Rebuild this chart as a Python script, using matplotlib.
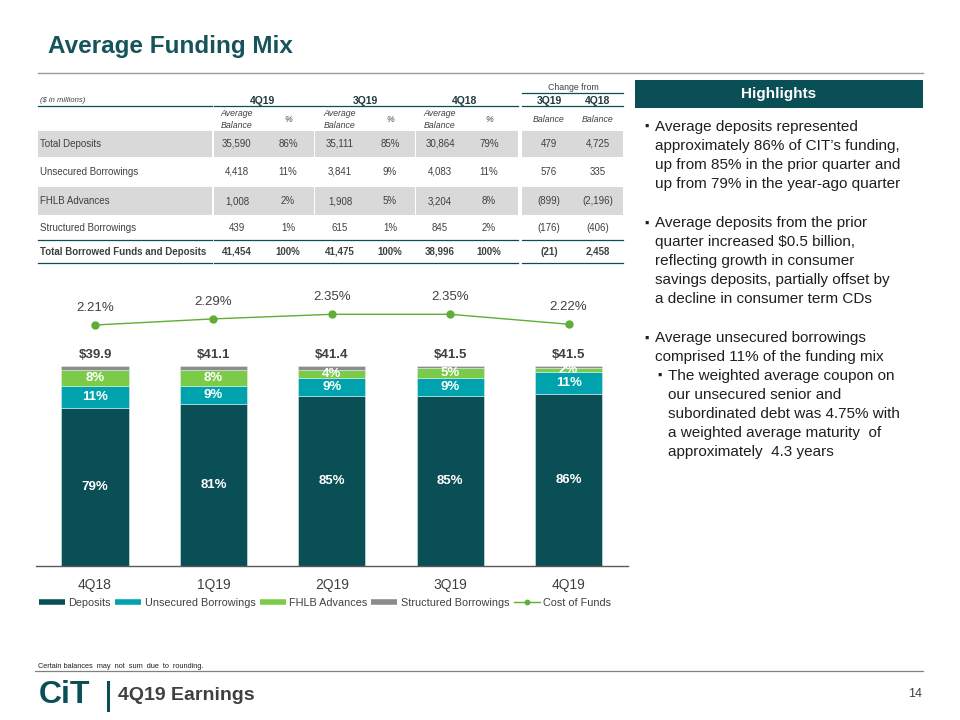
import matplotlib
matplotlib.use("Agg")
import matplotlib.pyplot as plt
from matplotlib.lines import Line2D
from matplotlib.patches import Rectangle

plt.rcParams['font.family'] = ['Liberation Sans', 'DejaVu Sans']

# --- chart data ---------------------------------------------------------
quarters = ["4Q18", "1Q19", "2Q19", "3Q19", "4Q19"]
deposits = [79, 81, 85, 85, 86]
unsecured = [11, 9, 9, 9, 11]
fhlb = [8, 8, 4, 5, 2]
structured = [2, 2, 2, 1, 1]
totals = [39.9, 41.1, 41.4, 41.5, 41.5]
cost_of_funds = [2.21, 2.29, 2.35, 2.35, 2.22]

# --- table data ---------------------------------------------------------
row_labels = ["Total Deposits", "Unsecured Borrowings", "FHLB Advances",
              "Structured Borrowings", "Total Borrowed Funds and Deposits"]
bal_4q19 = ["35,590", "4,418", "1,008", "439", "41,454"]
pct_4q19 = ["86%", "11%", "2%", "1%", "100%"]
bal_3q19 = ["35,111", "3,841", "1,908", "615", "41,475"]
pct_3q19 = ["85%", "9%", "5%", "1%", "100%"]
bal_4q18 = ["30,864", "4,083", "3,204", "845", "38,996"]
pct_4q18 = ["79%", "11%", "8%", "2%", "100%"]
chg_3q19 = ["479", "576", "(899)", "(176)", "(21)"]
chg_4q18 = ["4,725", "335", "(2,196)", "(406)", "2,458"]

highlights = [
    ["Average deposits represented",
     "approximately 86% of CIT\u2019s funding,",
     "up from 85% in the prior quarter and",
     "up from 79% in the year-ago quarter"],
    ["Average deposits from the prior",
     "quarter increased $0.5 billion,",
     "reflecting growth in consumer",
     "savings deposits, partially offset by",
     "a decline in consumer term CDs"],
    ["Average unsecured borrowings",
     "comprised 11% of the funding mix"],
]
sub_highlight = ["The weighted average coupon on",
                 "our unsecured senior and",
                 "subordinated debt was 4.75% with",
                 "a weighted average maturity  of",
                 "approximately  4.3 years"]

TEAL_DARK = "#0B4F56"
TEAL = "#00A3AD"
GREEN = "#7CCB48"
GRAY = "#8C8C8C"
LINE_GREEN = "#5FAE37"
TXT = "#404040"

W, H = 960, 720
fig = plt.figure(figsize=(9.6, 7.2), dpi=100)


def fx(x):
    return x / W


def fy(y):
    return 1 - y / H


def hline(x0, x1, y, color=TEAL_DARK, lw=0.9):
    fig.add_artist(Line2D([fx(x0), fx(x1)], [fy(y), fy(y)],
                          transform=fig.transFigure, color=color, lw=lw))


def txt(x, y, s, **kw):
    kw.setdefault("color", TXT)
    kw.setdefault("va", "center")
    fig.text(fx(x), fy(y), s, **kw)


# --- title ----------------------------------------------------------------
txt(48, 47, "Average Funding Mix", fontsize=17.5, fontweight="bold",
    color="#16535B", ha="left")
hline(38, 923, 73, color="#9A9A9A", lw=1.0)

# --- table ----------------------------------------------------------------
groups = [(38, 212), (213.5, 313.5), (315, 414.5), (416, 518), (522, 623)]
row_y = [144, 172, 201, 228, 252]
col_x = [237, 288, 340, 390, 440, 489, 549, 598]

for y0, y1 in [(131, 157), (187, 215)]:
    for x0, x1 in groups:
        fig.add_artist(Rectangle((fx(x0), fy(y1)), fx(x1) - fx(x0), (y1 - y0) / H,
                                 transform=fig.transFigure, color="#D9D9D9", lw=0))

for x0, x1 in groups[:4]:
    hline(x0, x1, 106)
hline(522, 573.5, 106)
hline(575, 623, 106)
hline(522, 623, 93)
for x0, x1 in groups:
    hline(x0, x1, 240)
    hline(x0, x1, 263)

txt(40, 100, "($ in millions)", fontsize=5.5, style="italic", ha="left")
txt(573, 87, "Change from", fontsize=6.3, ha="center")
for x, s in zip([262.5, 365, 464.5, 549, 598], ["4Q19", "3Q19", "4Q18", "3Q19", "4Q18"]):
    txt(x, 101, s, fontsize=7.5, fontweight="bold", color="#1E3A3E", ha="center")
for x in [237, 340, 440]:
    txt(x, 114, "Average", fontsize=6.3, style="italic", ha="center")
    txt(x, 125, "Balance", fontsize=6.3, style="italic", ha="center")
for x in [288, 390, 489]:
    txt(x, 119, "%", fontsize=6.3, style="italic", ha="center")
for x in [549, 598]:
    txt(x, 119, "Balance", fontsize=6.3, style="italic", ha="center")

columns = [bal_4q19, pct_4q19, bal_3q19, pct_3q19, bal_4q18, pct_4q18, chg_3q19, chg_4q18]
for i, (label, y) in enumerate(zip(row_labels, row_y)):
    w = "bold" if i == len(row_labels) - 1 else "normal"
    txt(40, y, label, fontsize=7, fontweight=w, ha="left")
    for x, col in zip(col_x, columns):
        txt(x, y, col[i], fontsize=7, fontweight=w, ha="center")

# --- stacked bars ---------------------------------------------------------
ax = fig.add_axes([fx(35.8), fy(566), (627.8 - 35.8) / W, (566 - 290) / H])
xs = range(len(quarters))
bw = 0.566
series = [(deposits, TEAL_DARK, "Deposits"),
          (unsecured, TEAL, "Unsecured Borrowings"),
          (fhlb, GREEN, "FHLB Advances"),
          (structured, GRAY, "Structured Borrowings")]
bottom = [0] * len(quarters)
for k, (vals, color, name) in enumerate(series):
    bars = ax.bar(xs, vals, bw, bottom=bottom, color=color, label=name,
                  edgecolor="#D8EEEE", linewidth=0.4)
    if k < 3:
        for b, v in zip(bars, vals):
            ax.text(b.get_x() + b.get_width() / 2, b.get_y() + b.get_height() / 2,
                    f"{v}%", ha="center", va="center", color="white",
                    fontsize=9.5, fontweight="bold")
    bottom = [a + b for a, b in zip(bottom, vals)]

for x, top, t in zip(xs, bottom, totals):
    ax.annotate(f"${t:.1f}", (x, top), xytext=(0, 8), textcoords="offset points",
                ha="center", va="center", fontsize=9.5, fontweight="bold", color=TXT)

ax.set_xlim(-0.5, 4.5)
ax.set_ylim(0, 138)
ax.set_xticks(list(xs), quarters)
ax.tick_params(axis="x", length=0, pad=9, labelsize=10, labelcolor=TXT)
ax.set_yticks([])
for s in ["top", "left", "right"]:
    ax.spines[s].set_visible(False)
ax.spines["bottom"].set_color("#595959")
ax.spines["bottom"].set_linewidth(1.0)

# --- cost of funds line ---------------------------------------------------
ax2 = ax.twinx()
ax2.set_ylim(-0.944, 2.668)
ax2.plot(xs, cost_of_funds, color=LINE_GREEN, lw=1.0, marker="o", markersize=5)
for x, v in zip(xs, cost_of_funds):
    ax2.annotate(f"{v:.2f}%", (x, v), xytext=(0, 12.2), textcoords="offset points",
                 ha="center", va="center", fontsize=9.5, color=TXT)
ax2.set_yticks([])
for s in ax2.spines.values():
    s.set_visible(False)

# --- legend ---------------------------------------------------------------
handles = [Line2D([0], [0], color=c, lw=4, solid_capstyle="butt") for _, c, _ in series]
handles.append(Line2D([0], [0], color=LINE_GREEN, lw=1.0, marker="o", markersize=3.2))
labels = [n for _, _, n in series] + ["Cost of Funds"]
fig.legend(handles, labels, loc="center", bbox_to_anchor=(fx(325), fy(603)),
           ncol=5, frameon=False, fontsize=7.8, handlelength=2.4,
           handletextpad=0.3, columnspacing=0.4, labelcolor=TXT)

# --- highlights panel -----------------------------------------------------
fig.add_artist(Rectangle((fx(635), fy(108)), fx(923) - fx(635), 28 / H,
                         transform=fig.transFigure, color=TEAL_DARK, lw=0))
txt(779, 94, "Highlights", fontsize=11, fontweight="bold", color="white", ha="center")

HL = "#1F1F1F"
starts = [127, 223.3, 338.3]
for lines, y0 in zip(highlights, starts):
    txt(644, y0, "\u25aa", fontsize=9, color=HL, ha="left")
    for j, line in enumerate(lines):
        txt(655, y0 + j * 19, line, fontsize=11, color=HL, ha="left")
y0 = 376
txt(657, y0, "\u25aa", fontsize=9, color=HL, ha="left")
for j, line in enumerate(sub_highlight):
    txt(668, y0 + j * 19, line, fontsize=11, color=HL, ha="left")

# --- footer ---------------------------------------------------------------
txt(38, 666, "Certain balances  may  not  sum  due  to  rounding.", fontsize=5.3,
    color="#202020", ha="left")
hline(35, 923, 671, color="#808080", lw=0.9)
txt(39, 695, "CiT", fontsize=23, fontweight="bold", color=TEAL_DARK, ha="left")
fig.add_artist(Line2D([fx(107.5), fx(107.5)], [fy(682), fy(710)],
                      transform=fig.transFigure, color=TEAL_DARK, lw=2.2))
txt(118, 696, "4Q19 Earnings", fontsize=14, fontweight="bold", color=TXT, ha="left")
txt(915, 694, "14", fontsize=9, color=TXT, ha="center")

fig.savefig("out.png", dpi=100)
